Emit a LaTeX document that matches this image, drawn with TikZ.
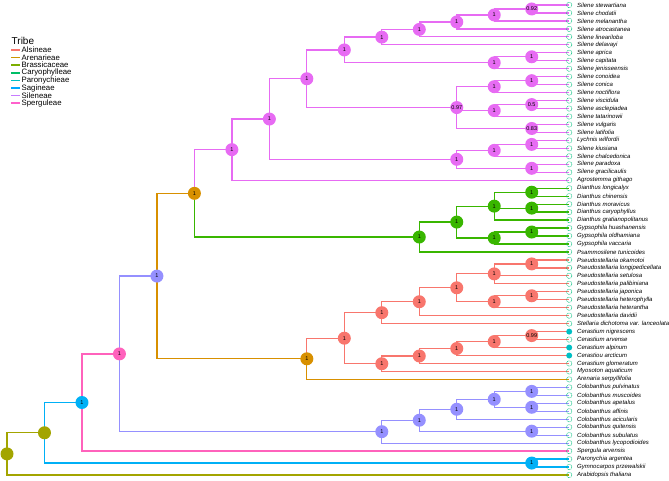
\documentclass[tikz,border=0pt]{standalone}
\usepackage{fontspec}
\setmainfont{Liberation Sans}
\definecolor{cAls}{HTML}{F8766D}
\definecolor{cAre}{HTML}{D89000}
\definecolor{cBra}{HTML}{A3A500}
\definecolor{cCar}{HTML}{39B600}
\definecolor{cSag}{HTML}{00B0F6}
\definecolor{cCol}{HTML}{9590FF}
\definecolor{cSil}{HTML}{E76BF3}
\definecolor{cSpe}{HTML}{FF62BC}
\definecolor{lAls}{HTML}{F8766D}
\definecolor{lAre}{HTML}{CD9600}
\definecolor{lBra}{HTML}{7CAE00}
\definecolor{lCar}{HTML}{00BE67}
\definecolor{lPar}{HTML}{00BFC4}
\definecolor{lSag}{HTML}{00A9FF}
\definecolor{lSil}{HTML}{C77CFF}
\definecolor{lSpe}{HTML}{FF61CC}
\definecolor{tipRing}{HTML}{00BF7D}
\definecolor{tipFill}{HTML}{00BFC4}
\begin{document}
\begin{tikzpicture}[x=1pt,y=-1pt,
  edgeAls/.style={draw=cAls, line width=1.25pt},
  edgeAre/.style={draw=cAre, line width=1.25pt},
  edgeBra/.style={draw=cBra, line width=1.25pt},
  edgeCar/.style={draw=cCar, line width=1.25pt},
  edgeSag/.style={draw=cSag, line width=1.25pt},
  edgeCol/.style={draw=cCol, line width=1.25pt},
  edgeSil/.style={draw=cSil, line width=1.25pt},
  edgeSpe/.style={draw=cSpe, line width=1.25pt},
  nd/.style={circle, inner sep=0pt, minimum size=13pt, font=\fontsize{5.5}{5.5}\selectfont, text=black},
  tipc/.style={circle, inner sep=0pt, minimum size=5.4pt, draw=tipRing, line width=0.5pt, dash pattern=on 0.8pt off 0.6pt},
  tipf/.style={circle, inner sep=0pt, minimum size=6pt, fill=tipFill},
  tiplab/.style={anchor=west, inner sep=0pt, font=\fontsize{6}{6}\selectfont\itshape},
  legkey/.style={line width=1.5pt},
  leglab/.style={anchor=west, inner sep=0pt, font=\fontsize{7.8}{7.8}\selectfont}]
\useasboundingbox (0,0) rectangle (669,480);

% ---------- tips ----------
\foreach \nm [count=\i] in {Silene stewartiana, Silene chodatii, Silene melanantha, Silene atrocastanea, Silene lineariloba, Silene delavayi, Silene aprica, Silene capitata, Silene jenisseensis, Silene conoidea, Silene conica, Silene noctiflora, Silene viscidula, Silene asclepiadea, Silene tatarinowii, Silene vulgaris, Silene latifolia, Lychnis wilfordii, Silene kiusiana, Silene chalcedonica, Silene paradoxa, Silene gracilicaulis, Agrostemma githago, Dianthus longicalyx, Dianthus chinensis, Dianthus moravicus, Dianthus caryophyllus, Dianthus gratianopolitanus, Gypsophila huashanensis, Gypsophila oldhamiana, Gypsophila vaccaria, Psammosilene tunicoides, Pseudostellaria okamotoi, Pseudostellaria longipedicellata, Pseudostellaria setulosa, Pseudostellaria palibiniana, Pseudostellaria japonica, Pseudostellaria heterophylla, Pseudostellaria heterantha, Pseudostellaria davidii, Stellaria dichotoma var. lanceolata, Cerastium nigrescens, Cerastium arvense, Cerastium alpinum, Cerastiou arcticum, Cerastium glomeratum, Myosoton aquaticum, Arenaria serpyllifolia, Colobanthus pulvinatus, Colobanthus muscoides, Colobanthus apetalus, Colobanthus affinis, Colobanthus acicularis, Colobanthus quitensis, Colobanthus subulatus, Colobanthus lycopodioides, Spergula arvensis, Paronychia argentea, Gymnocarpos przewalskii, Arabidopsis thaliana} {
  \coordinate (t\i) at (569.2, {5+(\i-1)*7.966});
  \node[tiplab] (lab\i) at (577, {5+(\i-1)*7.966}) {\nm};
}

% ---------- internal node positions ----------
\coordinate (R0) at (7,453.89);
\coordinate (N1) at (44.48,432.77);
\coordinate (N2) at (81.96,402.49);
\coordinate (P1) at (531.72,463.05);
\coordinate (N3) at (119.44,353.88);
\coordinate (N4) at (156.92,276.07);
\coordinate (C7) at (381.8,431.68);
\coordinate (C6) at (419.28,420.23);
\coordinate (C4) at (456.76,409.28);
\coordinate (C3) at (494.24,399.32);
\coordinate (C1) at (531.72,391.35);
\coordinate (C2) at (531.72,407.28);
\coordinate (C5) at (531.72,431.18);
\coordinate (N5) at (194.4,193.33);
\coordinate (Nal) at (306.84,358.80);
\coordinate (U) at (231.88,149.65);
\coordinate (T) at (269.36,119.04);
\coordinate (O) at (306.84,78.74);
\coordinate (H) at (344.32,49.93);
\coordinate (E) at (381.8,37.11);
\coordinate (D) at (419.28,29.40);
\coordinate (C) at (456.76,21.93);
\coordinate (B) at (494.24,14.96);
\coordinate (A) at (531.72,8.99);
\coordinate (G) at (494.24,62.75);
\coordinate (F) at (531.72,56.78);
\coordinate (N) at (456.76,107.56);
\coordinate (J) at (494.24,86.65);
\coordinate (I) at (531.72,80.68);
\coordinate (L) at (494.24,110.55);
\coordinate (K) at (531.72,104.58);
\coordinate (M) at (531.72,128.47);
\coordinate (S) at (456.76,159.34);
\coordinate (Q) at (494.24,150.38);
\coordinate (P) at (531.72,144.40);
\coordinate (R) at (531.72,168.30);
\coordinate (V) at (419.28,237.01);
\coordinate (W6) at (456.76,222.07);
\coordinate (W3) at (494.24,206.14);
\coordinate (W1) at (531.72,192.20);
\coordinate (W2) at (531.72,208.13);
\coordinate (W5) at (494.24,238.00);
\coordinate (W4) at (531.72,232.03);
\coordinate (Y4) at (344.32,338.20);
\coordinate (Y3) at (381.8,312.68);
\coordinate (Y2) at (419.28,301.73);
\coordinate (Y1) at (456.76,287.79);
\coordinate (X2) at (494.24,273.85);
\coordinate (X1) at (531.72,263.90);
\coordinate (X4) at (494.24,301.73);
\coordinate (X3) at (531.72,295.76);
\coordinate (Z5) at (381.8,363.72);
\coordinate (Z4) at (419.28,356.00);
\coordinate (Z3) at (456.76,348.53);
\coordinate (Z2) at (494.24,341.56);
\coordinate (Z1) at (531.72,335.59);

% ---------- branches ----------
\draw[edgeBra] (R0) |- (N1);
\draw[edgeBra] (R0) |- (t60);
\draw[edgeSag] (N1) |- (N2);
\draw[edgeSag] (N1) |- (P1);
\draw[edgeSag] (P1) |- (t58);
\draw[edgeSag] (P1) |- (t59);
\draw[edgeSpe] (N2) |- (N3);
\draw[edgeSpe] (N2) |- (t57);
\draw[edgeCol] (N3) |- (N4);
\draw[edgeCol] (N3) |- (C7);
\draw[edgeCol] (C7) |- (C6);
\draw[edgeCol] (C7) |- (t56);
\draw[edgeCol] (C6) |- (C4);
\draw[edgeCol] (C6) |- (C5);
\draw[edgeCol] (C4) |- (C3);
\draw[edgeCol] (C4) |- (t53);
\draw[edgeCol] (C3) |- (C1);
\draw[edgeCol] (C3) |- (C2);
\draw[edgeCol] (C1) |- (t49);
\draw[edgeCol] (C1) |- (t50);
\draw[edgeCol] (C2) |- (t51);
\draw[edgeCol] (C2) |- (t52);
\draw[edgeCol] (C5) |- (t54);
\draw[edgeCol] (C5) |- (t55);
\draw[edgeAre] (N4) |- (N5);
\draw[edgeAre] (N4) |- (Nal);
\draw[edgeSil] (N5) |- (U);
\draw[edgeCar] (N5) |- (V);
% Sileneae
\draw[edgeSil] (U) |- (T);
\draw[edgeSil] (U) |- (t23);
\draw[edgeSil] (T) |- (O);
\draw[edgeSil] (T) |- (S);
\draw[edgeSil] (O) |- (H);
\draw[edgeSil] (O) |- (N);
\draw[edgeSil] (H) |- (E);
\draw[edgeSil] (H) |- (G);
\draw[edgeSil] (E) |- (D);
\draw[edgeSil] (E) |- (t6);
\draw[edgeSil] (D) |- (C);
\draw[edgeSil] (D) |- (t5);
\draw[edgeSil] (C) |- (B);
\draw[edgeSil] (C) |- (t4);
\draw[edgeSil] (B) |- (A);
\draw[edgeSil] (B) |- (t3);
\draw[edgeSil] (A) |- (t1);
\draw[edgeSil] (A) |- (t2);
\draw[edgeSil] (G) |- (F);
\draw[edgeSil] (G) |- (t9);
\draw[edgeSil] (F) |- (t7);
\draw[edgeSil] (F) |- (t8);
\draw[edgeSil] (N) |- (J);
\draw[edgeSil] (N) |- (L);
\draw[edgeSil] (N) |- (M);
\draw[edgeSil] (J) |- (I);
\draw[edgeSil] (J) |- (t12);
\draw[edgeSil] (I) |- (t10);
\draw[edgeSil] (I) |- (t11);
\draw[edgeSil] (L) |- (K);
\draw[edgeSil] (L) |- (t15);
\draw[edgeSil] (K) |- (t13);
\draw[edgeSil] (K) |- (t14);
\draw[edgeSil] (M) |- (t16);
\draw[edgeSil] (M) |- (t17);
\draw[edgeSil] (S) |- (Q);
\draw[edgeSil] (S) |- (R);
\draw[edgeSil] (Q) |- (P);
\draw[edgeSil] (Q) |- (t20);
\draw[edgeSil] (P) |- (t18);
\draw[edgeSil] (P) |- (t19);
\draw[edgeSil] (R) |- (t21);
\draw[edgeSil] (R) |- (t22);
% Caryophylleae
\draw[edgeCar] (V) |- (W6);
\draw[edgeCar] (V) |- (t32);
\draw[edgeCar] (W6) |- (W3);
\draw[edgeCar] (W6) |- (W5);
\draw[edgeCar] (W3) |- (W1);
\draw[edgeCar] (W3) |- (W2);
\draw[edgeCar] (W3) |- (t28);
\draw[edgeCar] (W1) |- (t24);
\draw[edgeCar] (W1) |- (t25);
\draw[edgeCar] (W2) |- (t26);
\draw[edgeCar] (W2) |- (t27);
\draw[edgeCar] (W5) |- (W4);
\draw[edgeCar] (W5) |- (t31);
\draw[edgeCar] (W4) |- (t29);
\draw[edgeCar] (W4) |- (t30);
% Alsineae
\draw[edgeAls] (Nal) |- (Y4);
\draw[edgeAre] (Nal) |- (t48);
\draw[edgeAls] (Y4) |- (Y3);
\draw[edgeAls] (Y4) |- (Z5);
\draw[edgeAls] (Y3) |- (Y2);
\draw[edgeAls] (Y3) |- (t41);
\draw[edgeAls] (Y2) |- (Y1);
\draw[edgeAls] (Y2) |- (t40);
\draw[edgeAls] (Y1) |- (X2);
\draw[edgeAls] (Y1) |- (X4);
\draw[edgeAls] (X2) |- (X1);
\draw[edgeAls] (X2) |- (t35);
\draw[edgeAls] (X2) |- (t36);
\draw[edgeAls] (X1) |- (t33);
\draw[edgeAls] (X1) |- (t34);
\draw[edgeAls] (X4) |- (X3);
\draw[edgeAls] (X4) |- (t39);
\draw[edgeAls] (X3) |- (t37);
\draw[edgeAls] (X3) |- (t38);
\draw[edgeAls] (Z5) |- (Z4);
\draw[edgeAls] (Z5) |- (t47);
\draw[edgeAls] (Z4) |- (Z3);
\draw[edgeAls] (Z4) |- (t46);
\draw[edgeAls] (Z3) |- (Z2);
\draw[edgeAls] (Z3) |- (t45);
\draw[edgeAls] (Z2) |- (Z1);
\draw[edgeAls] (Z2) |- (t44);
\draw[edgeAls] (Z1) |- (t42);
\draw[edgeAls] (Z1) |- (t43);

% ---------- tip points ----------
\foreach \i in {1,...,41,43,46,47,...,60} {\node[tipc] (tc\i) at (t\i) {};}
\foreach \i in {42,44,45} {\node[tipf] (tc\i) at (t\i) {};}

% ---------- node circles ----------
\node[nd, fill=cBra] (nR0) at (R0) {};
\node[nd, fill=cBra] (nN1) at (N1) {};
\node[nd, fill=cSag] (nN2) at (N2) {1};
\node[nd, fill=cSag] (nP1) at (P1) {1};
\node[nd, fill=cSpe] (nN3) at (N3) {1};
\foreach \c in {N4,C7,C6,C4,C3,C1,C2,C5} {\node[nd, fill=cCol] (n\c) at (\c) {1};}
\node[nd, fill=cAre] (nN5) at (N5) {1};
\node[nd, fill=cAre] (nNal) at (Nal) {1};
\foreach \c/\v in {U/1,T/1,O/1,H/1,E/1,D/1,C/1,B/1,A/0.92,G/1,F/1,N/0.97,J/1,I/1,L/1,K/0.5,M/0.83,S/1,Q/1,P/1,R/1} {\node[nd, fill=cSil] (n\c) at (\c) {\v};}
\foreach \c in {V,W6,W3,W1,W2,W5,W4} {\node[nd, fill=cCar] (n\c) at (\c) {1};}
\foreach \c/\v in {Y4/1,Y3/1,Y2/1,Y1/1,X2/1,X1/1,X4/1,X3/1,Z5/1,Z4/1,Z3/1,Z2/1,Z1/0.99} {\node[nd, fill=cAls] (n\c) at (\c) {\v};}

% ---------- legend ----------
\node[anchor=west, inner sep=0pt, font=\fontsize{10}{10}\selectfont] (legtitle) at (11.5,40.5) {Tribe};
\foreach \col/\txt [count=\k] in {lAls/Alsineae, lAre/Arenarieae, lBra/Brassicaceae, lCar/Caryophylleae, lPar/Paronychieae, lSag/Sagineae, lSil/Sileneae, lSpe/Sperguleae} {
  \coordinate (lk\k a) at (11, {50+(\k-1)*7.6});
  \coordinate (lk\k b) at (20, {50+(\k-1)*7.6});
  \draw[legkey, draw=\col] (lk\k a) -- (lk\k b);
  \node[leglab] (ll\k) at (21.5, {50+(\k-1)*7.6}) {\txt};
}
\end{tikzpicture}
\end{document}
